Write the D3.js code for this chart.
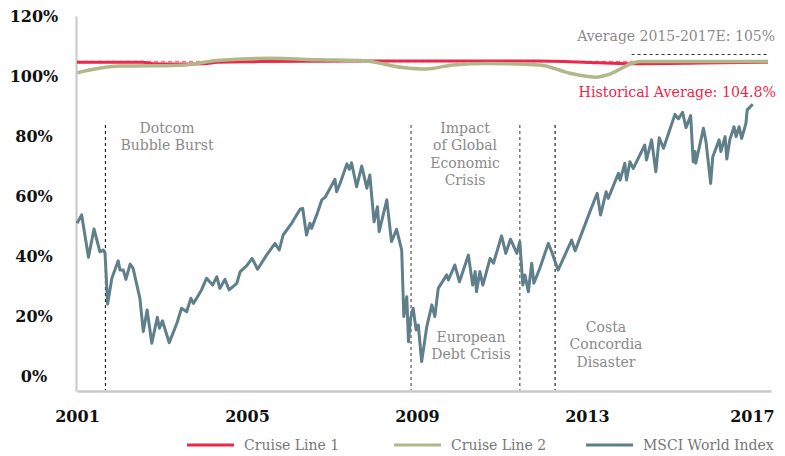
<!DOCTYPE html>
<html>
<head>
<meta charset="utf-8">
<script src="https://cdn.jsdelivr.net/npm/d3@7"></script>
<style>
  body { margin: 0; background: #fff; }
  svg { display: block; }
</style>
</head>
<body>
<svg id="chart" width="785" height="456"></svg>
<script>
// ---------------- DATA ----------------
const yTicks = [0, 20, 40, 60, 80, 100, 120];
const xTicks = [2001, 2005, 2009, 2013, 2017];

// MSCI World Index (fractional year, % value)
const msciYears = [2001.00,2001.11,2001.27,2001.40,2001.54,2001.62,2001.66,2001.72,2001.82,2001.97,
  2002.01,2002.09,2002.15,2002.25,2002.32,2002.48,2002.56,2002.65,2002.76,2002.89,2002.94,2003.01,
  2003.17,2003.35,2003.46,2003.58,2003.68,2003.74,2003.93,2004.05,2004.19,2004.29,2004.36,2004.48,
  2004.58,2004.76,2004.84,2004.99,2005.12,2005.25,2005.46,2005.66,2005.76,2005.85,2006.05,2006.25,
  2006.31,2006.40,2006.48,2006.52,2006.64,2006.76,2006.84,2007.07,2007.11,2007.19,2007.35,2007.41,
  2007.46,2007.58,2007.70,2007.82,2007.89,2007.99,2008.07,2008.11,2008.29,2008.40,2008.52,2008.64,
  2008.69,2008.76,2008.80,2008.85,2008.91,2008.98,2009.03,2009.11,2009.23,2009.35,2009.42,2009.50,
  2009.70,2009.74,2009.89,2010.00,2010.21,2010.31,2010.37,2010.40,2010.48,2010.55,2010.72,2010.80,
  2010.99,2011.09,2011.20,2011.35,2011.42,2011.49,2011.54,2011.62,2011.70,2011.75,2011.89,2012.09,
  2012.17,2012.32,2012.48,2012.64,2012.72,2013.07,2013.24,2013.32,2013.45,2013.50,2013.74,2013.78,
  2013.89,2013.93,2014.01,2014.09,2014.36,2014.40,2014.52,2014.62,2014.70,2014.80,2015.07,2015.15,
  2015.25,2015.33,2015.44,2015.50,2015.54,2015.56,2015.74,2015.80,2015.91,2015.96,2016.11,2016.15,
  2016.25,2016.29,2016.36,2016.46,2016.51,2016.58,2016.64,2016.74,2016.77,2016.90];
const msciValues = [50.9,53.7,39.6,49.0,41.4,42.0,40.9,24.0,32.6,38.4,
  35.3,35.3,32.2,37.3,35.9,25.9,14.8,22.0,10.9,19.6,15.9,18.4,
  11.1,17.6,22.6,21.4,25.9,24.2,28.7,32.6,30.3,33.1,29.2,32.2,
  28.7,30.9,34.8,36.7,39.2,35.6,40.3,44.2,42.0,47.0,50.9,55.6,
  55.9,47.0,50.9,49.2,53.7,58.7,59.6,65.6,61.4,64.2,70.7,68.9,
  71.1,63.1,70.0,62.6,67.0,51.4,56.4,48.1,58.7,44.8,48.9,42.0,
  19.8,26.4,11.4,19.2,22.6,15.3,17.0,4.8,16.4,23.7,19.8,29.2,
  33.7,32.0,37.0,31.4,40.3,30.3,34.8,28.1,34.8,30.3,39.2,37.6,
  46.7,40.9,45.6,40.9,44.8,30.3,33.7,28.1,37.6,30.9,35.9,44.2,
  41.4,35.3,40.3,45.3,41.7,54.8,60.9,53.7,61.4,59.2,67.6,65.3,
  70.9,65.3,71.4,69.2,77.0,72.0,78.7,68.1,79.4,75.9,87.2,85.7,
  87.9,82.8,86.8,71.4,74.8,70.9,82.6,78.1,64.2,73.1,78.7,74.8,
  79.8,72.3,78.7,83.1,79.8,83.1,79.2,84.2,88.7,90.6];

// Cruise Line 1 (red)
const cruise1Years  = [2001.00,2002.55,2002.80,2003.40,2004.00,2004.30,2005.30,2007.50,2009.20,2011.80,2013.30,2014.25,2015.66,2017.26];
const cruise1Values = [104.6,104.6,104.1,104.0,104.1,104.6,104.8,105.0,105.0,105.0,104.4,104.1,104.3,104.6];

// Cruise Line 2 (green)
const cruise2Years  = [2001.01,2002.01,2002.72,2003.58,2004.29,2005.54,2006.72,2007.73,2008.67,2009.19,2009.85,2010.64,2011.89,2012.60,2013.23,2013.46,2014.25,2017.26];
const cruise2Values = [101.1,103.3,103.4,103.7,105.2,105.9,105.4,105.1,102.8,102.3,103.7,104.2,103.7,100.9,99.6,100.3,104.8,104.8];

const historicalAverage = 104.8;
const recentAverage = 105;
const recentAverageStart = 2014.05;
const recentAverageEnd = 2017.26;

const events = [
  { year: 2001.67, lines: ["Dotcom", "Bubble Burst"] },
  { year: 2008.86, lines: ["Impact", "of Global", "Economic", "Crisis"] },
  { year: 2011.42, lines: ["European", "Debt Crisis"] },
  { year: 2012.25, lines: ["Costa", "Concordia", "Disaster"] }
];

const seriesNames = ["Cruise Line 1", "Cruise Line 2", "MSCI World Index"];
const seriesColors = ["#ee2649", "#b0b88a", "#5f7f8b"];

// ---------------- CHART ----------------
const svg = d3.select("#chart");
const serif = "'DejaVu Serif', serif";

const x = d3.scaleLinear().domain([2001, 2017.33]).range([77, 771]);
const y = d3.scaleLinear().domain([-5, 120]).range([391, 16]);

// axes
const yAxis = svg.append("g").attr("transform", "translate(76,0)")
  .call(d3.axisLeft(y).tickValues(yTicks).tickSize(0).tickSizeOuter(0).tickFormat(d => d + "%"));
yAxis.select(".domain").attr("stroke", "#c8c8c8").attr("stroke-width", 2);
yAxis.selectAll("text")
  .attr("x", -42).attr("text-anchor", "middle")
  .attr("font-family", serif).attr("font-weight", "bold").attr("font-size", 16).attr("fill", "#111");

const xAxis = svg.append("g").attr("transform", "translate(0,391)")
  .call(d3.axisBottom(x).tickValues(xTicks).tickSize(0).tickSizeOuter(0).tickFormat(d3.format("d")));
xAxis.select(".domain").attr("stroke", "#c8c8c8").attr("stroke-width", 2.5);
xAxis.selectAll("text")
  .attr("y", 20)
  .attr("font-family", serif).attr("font-weight", "bold").attr("font-size", 16).attr("fill", "#111")
  .attr("dx", d => d === 2017 ? -5 : 0);

// event lines and labels
events.forEach((e, i) => {
  svg.append("line")
    .attr("x1", x(e.year)).attr("x2", x(e.year))
    .attr("y1", 125).attr("y2", 390)
    .attr("stroke", i === 1 || i === 2 ? "#555" : "#222")
    .attr("stroke-width", 1.2)
    .attr("stroke-dasharray", "3,3");
});
const labelPos = [
  { cx: 167, cy: 128 },
  { cx: 465, cy: 128 },
  { cx: 471, cy: 337 },
  { cx: 606, cy: 327 }
];
events.forEach((e, i) => {
  const t = svg.append("text")
    .attr("font-family", serif).attr("font-size", 14).attr("fill", "#8a8a8a")
    .attr("text-anchor", "middle");
  e.lines.forEach((ln, j) => {
    t.append("tspan").attr("x", labelPos[i].cx).attr("y", labelPos[i].cy + 5 + j * 17.3).text(ln);
  });
});

// historical average dashed line
svg.append("line")
  .attr("x1", x(2001)).attr("x2", x(recentAverageEnd))
  .attr("y1", y(historicalAverage)).attr("y2", y(historicalAverage))
  .attr("stroke", "#f07a8f").attr("stroke-width", 1.5).attr("stroke-dasharray", "4,3");

// recent average dashed line (drawn just above level)
svg.append("line")
  .attr("x1", x(recentAverageStart)).attr("x2", x(recentAverageEnd))
  .attr("y1", y(recentAverage) - 6.5).attr("y2", y(recentAverage) - 6.5)
  .attr("stroke", "#333").attr("stroke-width", 1).attr("stroke-dasharray", "3,3");

const line = d3.line().x(d => x(d[0])).y(d => y(d[1]));
const smooth = d3.line().x(d => x(d[0])).y(d => y(d[1])).curve(d3.curveMonotoneX);

svg.append("path")
  .datum(cruise1Years.map((v, i) => [v, cruise1Values[i]]))
  .attr("d", smooth).attr("fill", "none")
  .attr("stroke", seriesColors[0]).attr("stroke-width", 3);

svg.append("path")
  .datum(cruise2Years.map((v, i) => [v, cruise2Values[i]]))
  .attr("d", smooth).attr("fill", "none")
  .attr("stroke", seriesColors[1]).attr("stroke-width", 3.5);

svg.append("path")
  .datum(msciYears.map((v, i) => [v, msciValues[i]]))
  .attr("d", line).attr("fill", "none")
  .attr("stroke", seriesColors[2]).attr("stroke-width", 3)
  .attr("stroke-linejoin", "round");

// annotations top right
svg.append("text")
  .attr("x", 775).attr("y", 41).attr("text-anchor", "end")
  .attr("font-family", serif).attr("font-size", 14).attr("fill", "#8a8a8a")
  .text("Average 2015-2017E: " + recentAverage + "%");
svg.append("text")
  .attr("x", 776).attr("y", 97).attr("text-anchor", "end")
  .attr("font-family", serif).attr("font-size", 14.2).attr("fill", seriesColors[0])
  .text("Historical Average: " + historicalAverage + "%");

// legend
const legendX = [187, 394, 586];
seriesNames.forEach((name, i) => {
  const g = svg.append("g").attr("transform", `translate(${legendX[i]},445)`);
  g.append("line").attr("x1", 0).attr("x2", 47).attr("y1", 0).attr("y2", 0)
    .attr("stroke", seriesColors[i]).attr("stroke-width", 3);
  g.append("text").attr("x", 57).attr("y", 5)
    .attr("font-family", serif).attr("font-size", 14).attr("fill", "#777")
    .text(name);
});
</script>
</body>
</html>
